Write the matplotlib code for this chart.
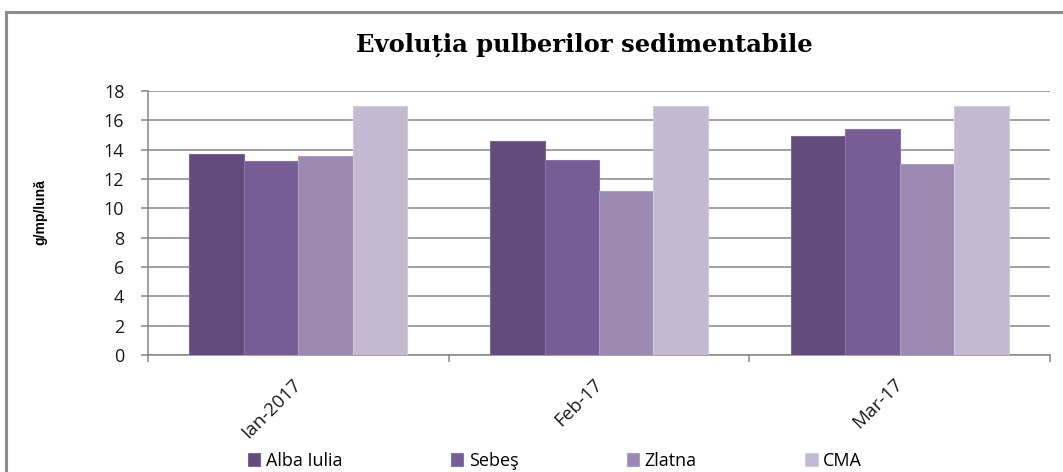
import numpy as np
import matplotlib
matplotlib.use("Agg")
from matplotlib import pyplot as plt
from matplotlib.patches import Rectangle

# data
months = ["Ian-2017", "Feb-17", "Mar-17"]
alba_iulia = [13.7, 14.6, 14.9]
sebes = [13.2, 13.3, 15.4]
zlatna = [13.6, 11.2, 13.0]
cma = [17.0, 17.0, 17.0]
series_names = ["Alba Iulia", "Sebeş", "Zlatna", "CMA"]
y_ticks = [0, 2, 4, 6, 8, 10, 12, 14, 16, 18]

colors = ["#624c7c", "#765d95", "#9b89b2", "#c3b9d0"]
edges = ["#7a6893", "#8a74a6", "#ad9dc0", "#d3cbdd"]

fig = plt.figure(figsize=(10.63, 4.72), dpi=100)

# outer chart frame (cut off on the right and bottom like the source)
fig.patches.append(Rectangle((6 / 1063, -0.05), 1.1, (472 - 12) / 472 + 0.05,
                             transform=fig.transFigure, fill=False,
                             edgecolor="#8c8c8c", linewidth=2.2))

ax = fig.add_axes([148 / 1063, 1 - 355 / 472, (1050 - 148) / 1063, (355 - 91) / 472])

x = np.arange(len(months))
bw = 0.725 / 4
all_series = [alba_iulia, sebes, zlatna, cma]
for i, (vals, name) in enumerate(zip(all_series, series_names)):
    ax.bar(x + (i - 1.5) * bw, vals, bw, color=colors[i], edgecolor=edges[i],
           linewidth=0.8, label=name, zorder=3)

ax.set_xlim(-0.5, 2.5)
ax.set_ylim(0, 18)
ax.set_yticks(y_ticks)
ax.yaxis.grid(True, color="#868686", linewidth=1.1, zorder=0)
ax.set_axisbelow(True)

for s in ["top", "right"]:
    ax.spines[s].set_visible(False)
ax.spines["left"].set_color("#868686")
ax.spines["bottom"].set_color("#868686")
ax.spines["left"].set_linewidth(1.1)
ax.spines["bottom"].set_linewidth(1.1)

tick_font = dict(family=["Open Sans", "DejaVu Sans"], size=13, color="#1a1a1a")
ax.set_yticklabels([str(v) for v in y_ticks], **tick_font)
ax.tick_params(axis="y", length=5, color="#868686", width=1.1, pad=12)

ax.set_xticks(x)
ax.set_xticklabels(months, rotation=45, ha="right", va="center",
                   rotation_mode="anchor", size=13.5,
                   family=["Open Sans", "DejaVu Sans"], color="#1a1a1a")
ax.tick_params(axis="x", which="major", length=0, pad=19)
ax.set_xticks([-0.5, 0.5, 1.5, 2.5], minor=True)
ax.tick_params(axis="x", which="minor", length=5, color="#868686", width=1.1)

fig.text(584 / 1063, 1 - 45 / 472, "Evoluția pulberilor sedimentabile",
         ha="center", va="center", fontsize=17.5, fontweight="bold",
         family=["DejaVu Serif"])

fig.text(40 / 1063, 1 - 212 / 472, "g/mp/lună", rotation=90, ha="center",
         va="center", fontsize=10, fontweight="bold",
         family=["Liberation Sans", "DejaVu Sans"])

handles, labels = ax.get_legend_handles_labels()
leg = fig.legend(handles, labels, loc="center", bbox_to_anchor=(555 / 1063, 1 - 461 / 472),
                 ncol=4, frameon=False, handlelength=0.7, handleheight=0.7,
                 handletextpad=0.3, columnspacing=6.0,
                 prop=dict(family=["Open Sans", "DejaVu Sans"], size=13))

fig.savefig("out.png", dpi=100)
